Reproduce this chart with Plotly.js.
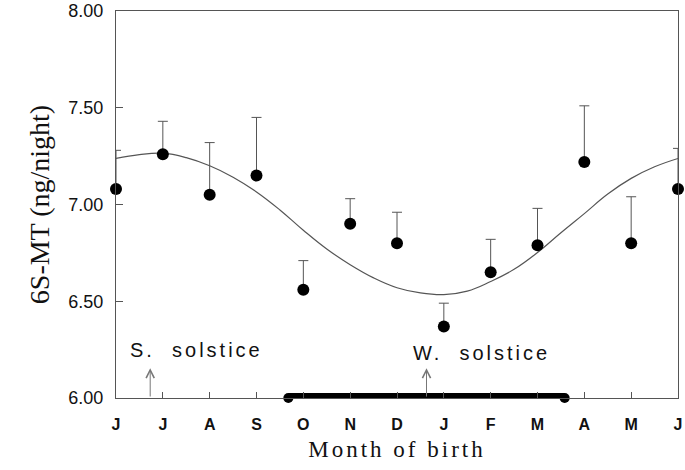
<!DOCTYPE html>
<html><head><meta charset="utf-8">
<script src="https://cdn.plot.ly/plotly-3.0.1.min.js"></script>
<style>
html,body{margin:0;padding:0;background:#fff}
#chart{width:685px;height:470px}
.xtitle{letter-spacing:3px}
.annotation-text{letter-spacing:3px}
</style></head><body><div id="chart"></div>
<script>
const monthLabels = ['J','J','A','S','O','N','D','J','F','M','A','M','J'];
const monthIndex = [0,1,2,3,4,5,6,7,8,9,10,11,12];
const meanValues = [7.08,7.26,7.05,7.15,6.56,6.90,6.80,6.37,6.65,6.79,7.22,6.80,7.08];
const semUpper = [0.20,0.17,0.27,0.30,0.15,0.13,0.16,0.12,0.17,0.19,0.29,0.24,0.21];
const fitX = [0,0.5,1,1.5,2,2.5,3,3.5,4,4.5,5,5.5,6,6.5,7,7.5,8,8.5,9,9.5,10,10.5,11,11.5,12];
const fitY = [7.238,7.258,7.265,7.242,7.200,7.141,7.065,6.972,6.867,6.770,6.689,6.621,6.570,6.543,6.534,6.552,6.602,6.665,6.752,6.854,6.953,7.054,7.135,7.195,7.238];
const darkPeriodX = [3.68, 9.58];
const darkPeriodY = [6, 6];
const yTicks = [6, 6.5, 7, 7.5, 8];
const solsticeLabels = ['S.  solstice', 'W.  solstice'];
const solsticeX = [0.73, 6.63];

const grey = '#555';
const traces = [
  {x: fitX, y: fitY, mode: 'lines', line: {shape: 'spline', smoothing: 1.2, color: grey, width: 1.2}, hoverinfo: 'skip'},
  {x: monthIndex, y: meanValues, mode: 'markers', cliponaxis: false,
   marker: {color: '#000', size: 12},
   error_y: {type: 'data', symmetric: false, array: semUpper, arrayminus: semUpper.map(() => 0),
             color: grey, thickness: 1, width: 5}},
  {x: darkPeriodX, y: darkPeriodY, mode: 'lines+markers', cliponaxis: false,
   line: {color: '#000', width: 10}, marker: {color: '#000', size: 10}}
];

const annotations = [];
solsticeX.forEach((sx, i) => {
  annotations.push({x: sx, y: 6.154, ax: sx, ay: 6.0, xref: 'x', yref: 'y', axref: 'x', ayref: 'y',
    text: '', showarrow: true, arrowhead: 5, arrowsize: 1.6, arrowwidth: 1, arrowcolor: '#777'});
});
annotations.push({x: 1.71, y: 6.246, xref: 'x', yref: 'y', text: solsticeLabels[0], showarrow: false,
  font: {family: 'Liberation Sans', size: 20, color: '#111'}});
annotations.push({x: 7.81, y: 6.235, xref: 'x', yref: 'y', text: solsticeLabels[1], showarrow: false,
  font: {family: 'Liberation Sans', size: 20, color: '#111'}});

const layout = {
  width: 685, height: 470,
  margin: {l: 116, r: 7, t: 11, b: 72},
  paper_bgcolor: '#fff', plot_bgcolor: '#fff',
  showlegend: false,
  xaxis: {range: [0, 12], tickvals: monthIndex, ticktext: monthLabels, ticks: 'inside', ticklen: 6,
    tickcolor: grey, showline: true, linecolor: grey, linewidth: 1, mirror: true, showgrid: false, zeroline: false,
    tickfont: {family: 'Liberation Sans', size: 16, color: '#111', weight: 'bold'}, ticklabelstandoff: 12,
    title: {text: 'Month of birth', font: {family: 'Liberation Serif', size: 23, color: '#111'}, standoff: 8}},
  yaxis: {range: [6, 8], tickvals: yTicks, tickformat: '.2f', ticks: 'inside', ticklen: 7,
    tickcolor: grey, showline: true, linecolor: grey, linewidth: 1, mirror: true, showgrid: false, zeroline: false,
    ticklabeloverflow: 'allow',
    tickfont: {family: 'Liberation Sans', size: 18, color: '#111'}, ticklabelstandoff: 8,
    title: {text: '6S-MT (ng/night)', font: {family: 'Liberation Serif', size: 28, color: '#111'}, standoff: 10}},
  annotations: annotations
};
Plotly.newPlot('chart', traces, layout, {displayModeBar: false, staticPlot: true});
</script></body></html>
